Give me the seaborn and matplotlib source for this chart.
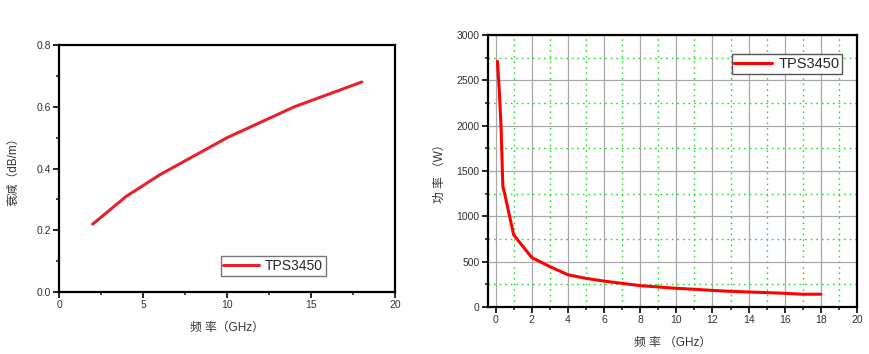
import matplotlib
matplotlib.use("Agg")
import matplotlib.pyplot as plt
from matplotlib.ticker import MultipleLocator
import pandas as pd
import seaborn as sns

# attenuation curve
freq_att = [2, 4, 6, 8, 10, 12, 14, 16, 18]
atten = [0.22, 0.31, 0.38, 0.44, 0.50, 0.55, 0.60, 0.64, 0.68]

# power curve
freq_pow = [0.1, 0.2, 0.3, 0.4, 0.5, 1, 2, 3, 4, 5, 6, 7, 8, 9, 10,
            11, 12, 13, 14, 15, 16, 17, 18]
power = [2710, 2400, 1990, 1330, 1250, 795, 545, 445, 355, 315, 285, 260, 235,
         220, 205, 195, 182, 172, 165, 158, 150, 140, 140]

series_name = "TPS3450"

sns.set_style("ticks")
plt.rcParams['font.family'] = ['Liberation Sans', 'Noto Sans CJK SC', 'DejaVu Sans']
plt.rcParams['axes.linewidth'] = 1.6

df_att = pd.DataFrame({"freq": freq_att, "val": atten, "name": series_name})
df_pow = pd.DataFrame({"freq": freq_pow, "val": power, "name": series_name})

fig = plt.figure(figsize=(8.69, 3.54), dpi=100)
ax1 = fig.add_axes([0.068, 0.175, 0.387, 0.698])
ax2 = fig.add_axes([0.5616, 0.133, 0.4246, 0.768])

tick_col = "#333333"

def style_axes(ax):
    for sp in ax.spines.values():
        sp.set_visible(True)
        sp.set_color("black")
    ax.tick_params(which="major", direction="out", length=4, width=1.4,
                   labelsize=7.5, labelcolor=tick_col, pad=2)
    ax.tick_params(which="minor", direction="out", length=2.5, width=1.2)


sns.lineplot(data=df_att, x="freq", y="val", hue="name", palette=["#e8212b"],
             linewidth=2.2, ax=ax1)
ax1.set_xlim(0, 20)
ax1.set_ylim(0, 0.8)
ax1.xaxis.set_major_locator(MultipleLocator(5))
ax1.xaxis.set_minor_locator(MultipleLocator(2.5))
ax1.yaxis.set_major_locator(MultipleLocator(0.2))
ax1.yaxis.set_minor_locator(MultipleLocator(0.1))
ax1.yaxis.set_major_formatter(matplotlib.ticker.FormatStrFormatter("%.1f"))
style_axes(ax1)
ax1.set_xlabel("频 率（GHz）", fontsize=8.5, color=tick_col, labelpad=8)
ax1.set_ylabel("衰减（dB/m）", fontsize=8.5, color=tick_col, labelpad=12)
leg1 = ax1.legend(loc="lower left", bbox_to_anchor=(0.48, 0.065), frameon=True,
                  fancybox=False, edgecolor="#555555", fontsize=10,
                  handlelength=2.6, borderpad=0.2, handletextpad=0.4,
                  borderaxespad=0)
leg1.get_frame().set_linewidth(1.0)

sns.lineplot(data=df_pow, x="freq", y="val", hue="name", palette=["#ff0000"],
             linewidth=2.2, ax=ax2)
ax2.set_xlim(-0.42, 20)
ax2.set_ylim(0, 3000)
ax2.xaxis.set_major_locator(MultipleLocator(2))
ax2.xaxis.set_minor_locator(MultipleLocator(1))
ax2.yaxis.set_major_locator(MultipleLocator(500))
ax2.yaxis.set_minor_locator(MultipleLocator(250))
ax2.grid(which="major", color="#a8a8a8", linewidth=0.9, linestyle="-")
ax2.grid(which="minor", color="#22dd22", linewidth=1.0, linestyle=(0, (1.2, 2.8)))
ax2.set_axisbelow(True)
style_axes(ax2)
ax2.set_xlabel("频 率 （GHz）", fontsize=8.5, color=tick_col, labelpad=8)
ax2.set_ylabel("功 率 （W）", fontsize=8.5, color=tick_col, labelpad=8)
leg2 = ax2.legend(loc="upper right", bbox_to_anchor=(0.96, 0.93), frameon=True,
                  fancybox=False, edgecolor="#555555", fontsize=10.5,
                  handlelength=2.6, borderpad=0.2, handletextpad=0.4,
                  borderaxespad=0, framealpha=1)
leg2.get_frame().set_linewidth(1.0)

fig.savefig("out.png", dpi=100)
